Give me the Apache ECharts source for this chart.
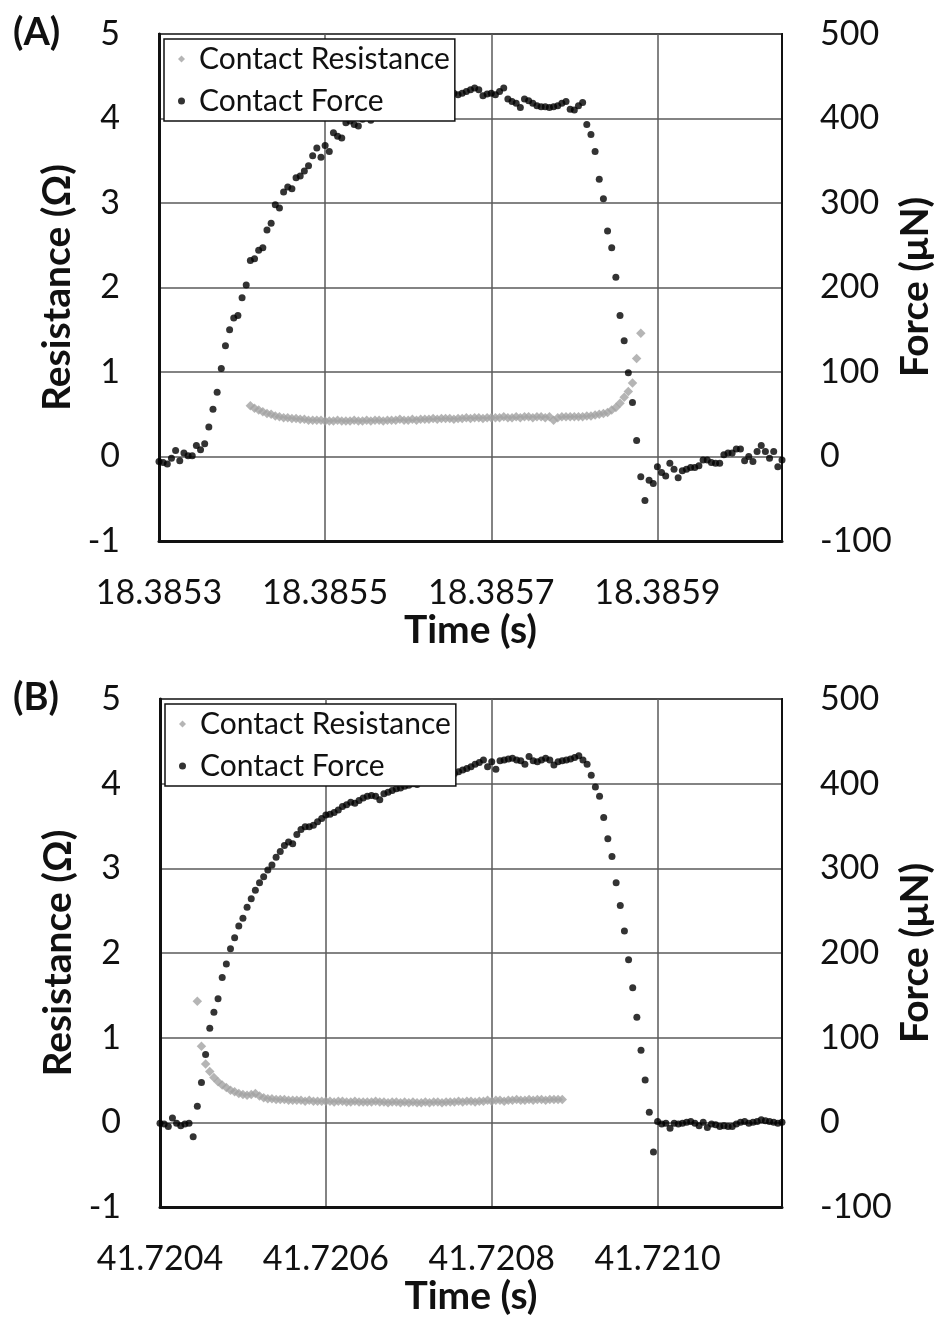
<!DOCTYPE html>
<html>
<head>
<meta charset="utf-8">
<script src="https://cdn.jsdelivr.net/npm/echarts@6/dist/echarts.min.js"></script>
<style>
  html, body { margin: 0; padding: 0; background: #fff; }
  #chart { width: 937px; height: 1319px; }
</style>
</head>
<body>
<div id="chart"></div>
<script>
// Sample times are microseconds after the start of each window.
const startTimeA = 18.3853;   // s
const startTimeB = 41.7204;   // s
const windowLength = 750;     // µs shown per panel
const timeTickStep = 200;     // µs between time labels

const resistanceTicks = { min: -1, max: 5, step: 1 };
const forceTicks = { min: -100, max: 500, step: 100 };

// (A) contact force, µN
const forceA = [
  [0,-6],[5,-7],[10,-9],[15,-2],[20,7],[25,-5],[30,4],[35,1],[40,1],[45,13],
  [50,8],[55,15],[60,35],[65,56],[70,76],[75,104],[80,131],[85,150],[90,164],[95,167],
  [100,188],[105,203],[110,232],[115,234],[120,244],[125,247],[130,268],[135,276],[140,298],[145,294],
  [150,313],[155,319],[160,317],[165,330],[170,332],[175,338],[180,344],[185,356],[190,365],[195,354],
  [200,368],[205,361],[210,383],[215,379],[220,377],[225,395],[230,397],[235,393],[240,391],[245,399],
  [250,402],[255,398],[260,405],[265,408],[270,404],[275,410],[280,412],[285,409],[290,414],[295,416],
  [300,413],[305,418],[310,420],[315,417],[320,422],[325,424],[330,421],[335,425],[340,427],[345,424],
  [350,428],[355,430],[360,428],[365,430],[370,432],[375,434],[380,436],[385,434],[390,427],[395,429],
  [400,430],[405,428],[410,432],[415,436],[420,423],[425,420],[430,418],[435,413],[440,423],[445,421],
  [450,418],[455,415],[460,414],[465,414],[470,413],[475,414],[480,415],[485,418],[490,420],[495,411],
  [500,410],[505,415],[510,419],[515,393],[520,381],[525,361],[530,328],[535,305],[540,267],[545,247],
  [550,212],[555,167],[560,137],[565,99],[570,64],[575,19],[580,-24],[585,-52],[590,-28],[595,-32],
  [600,-12],[605,-19],[610,-23],[615,-8],[620,-15],[625,-25],[630,-17],[635,-15],[640,-13],[645,-13],
  [650,-11],[655,-4],[660,-4],[665,-7],[670,-8],[675,-8],[680,2],[685,4],[690,4],[695,9],
  [700,9],[705,-5],[710,0],[715,-6],[720,6],[725,13],[730,6],[735,-2],[740,6],[745,-12],
  [750,-4]
];

// (A) contact resistance, Ω
const resistanceA = [
  [110,0.60],[115,0.57],[120,0.55],[125,0.53],[130,0.51],[135,0.50],[140,0.48],[145,0.47],[150,0.46],[155,0.46],
  [160,0.45],[165,0.45],[170,0.44],[175,0.44],[180,0.43],[185,0.43],[190,0.43],[195,0.43],[200,0.42],
  [205,0.42],[210,0.42],[215,0.43],[220,0.42],[225,0.42],[230,0.42],[235,0.43],[240,0.42],[245,0.42],[250,0.43],
  [255,0.42],[260,0.43],[265,0.43],[270,0.42],[275,0.43],[280,0.43],[285,0.43],[290,0.44],[295,0.43],[300,0.43],
  [305,0.44],[310,0.43],[315,0.44],[320,0.44],[325,0.44],[330,0.45],[335,0.44],[340,0.45],[345,0.45],[350,0.45],
  [355,0.44],[360,0.45],[365,0.45],[370,0.46],[375,0.45],[380,0.46],[385,0.46],[390,0.45],[395,0.46],[400,0.46],
  [405,0.46],[410,0.46],[415,0.47],[420,0.46],[425,0.46],[430,0.47],[435,0.46],[440,0.47],[445,0.47],[450,0.46],
  [455,0.47],[460,0.47],[465,0.46],[470,0.47],[475,0.43],[480,0.46],[485,0.47],[490,0.47],[495,0.47],[500,0.47],
  [505,0.47],[510,0.47],[515,0.48],[520,0.48],[525,0.49],[530,0.50],[535,0.51],[540,0.52],[545,0.55],[550,0.58],
  [555,0.63],[560,0.70],[565,0.77],[570,0.87],[575,1.16],[580,1.46]
];

// (B) contact force, µN
const forceB = [
  [0,-1],[5,-2],[10,-5],[15,5],[20,-1],[25,-4],[30,-2],[35,-1],[40,-17],[45,19],
  [50,47],[55,80],[60,111],[65,130],[70,146],[75,171],[80,187],[85,205],[90,218],[95,232],
  [100,241],[105,254],[110,264],[115,274],[120,283],[125,290],[130,298],[135,304],[140,313],[145,320],
  [150,327],[155,331],[160,329],[165,340],[170,346],[175,349],[180,349],[185,351],[190,355],[195,359],
  [200,363],[205,364],[210,366],[215,369],[220,373],[225,375],[230,378],[235,377],[240,380],[245,383],
  [250,385],[255,386],[260,385],[265,381],[270,388],[275,390],[280,392],[285,394],[290,395],[295,397],
  [300,398],[305,400],[310,399],[315,402],[320,404],[325,403],[330,406],[335,407],[340,409],[345,408],
  [350,411],[355,412],[360,414],[365,416],[370,418],[375,420],[380,423],[385,425],[390,428],[395,420],
  [400,426],[405,417],[410,427],[415,428],[420,429],[425,430],[430,428],[435,427],[440,423],[445,432],
  [450,427],[455,426],[460,428],[465,430],[470,428],[475,422],[480,426],[485,427],[490,428],[495,429],
  [500,431],[505,433],[510,428],[515,423],[520,410],[525,396],[530,385],[535,360],[540,335],[545,314],
  [550,283],[555,256],[560,226],[565,192],[570,159],[575,124],[580,85],[585,50],[590,12],[595,-35],
  [600,1],[605,-2],[610,-1],[615,-7],[620,-1],[625,-2],[630,-1],[635,0],[640,1],[645,-1],
  [650,-4],[655,0],[660,-6],[665,-2],[670,-3],[675,-5],[680,-4],[685,-5],[690,-5],[695,-2],
  [700,0],[705,1],[710,-1],[715,0],[720,1],[725,3],[730,2],[735,1],[740,0],[745,-1],
  [750,0]
];

// (B) contact resistance, Ω
const resistanceB = [
  [45,1.43],[50,0.90],[55,0.69],[60,0.60],[65,0.53],[70,0.48],[75,0.44],[80,0.41],[85,0.38],[90,0.36],
  [95,0.34],[100,0.33],[105,0.32],[110,0.33],[115,0.34],[120,0.31],[125,0.29],[130,0.28],[135,0.28],[140,0.27],
  [145,0.27],[150,0.27],[155,0.26],[160,0.26],[165,0.26],[170,0.26],[175,0.25],[180,0.26],[185,0.25],[190,0.25],
  [195,0.25],[200,0.25],[205,0.25],[210,0.24],[215,0.25],[220,0.25],[225,0.24],[230,0.24],[235,0.25],[240,0.24],
  [245,0.24],[250,0.24],[255,0.24],[260,0.25],[265,0.24],[270,0.24],[275,0.23],[280,0.24],[285,0.24],[290,0.23],
  [295,0.24],[300,0.23],[305,0.24],[310,0.23],[315,0.23],[320,0.24],[325,0.23],[330,0.24],[335,0.24],[340,0.23],
  [345,0.24],[350,0.24],[355,0.24],[360,0.25],[365,0.24],[370,0.25],[375,0.25],[380,0.24],[385,0.25],[390,0.25],
  [395,0.26],[400,0.25],[405,0.26],[410,0.26],[415,0.25],[420,0.26],[425,0.26],[430,0.27],[435,0.26],[440,0.26],
  [445,0.27],[450,0.26],[455,0.27],[460,0.27],[465,0.26],[470,0.27],[475,0.27],[480,0.27],[485,0.27]
];

const FONT = 'Lato, "Open Sans", sans-serif';
const INK = '#111';
const GRID_LINE = '#5a5a5a';

function timeAxis(gridIndex, start) {
  return {
    type: 'value', gridIndex,
    min: 0, max: windowLength, interval: timeTickStep,
    axisLine: { show: true, onZero: false, lineStyle: { color: INK, width: 3 } },
    axisTick: { show: false },
    splitLine: { show: true, lineStyle: { color: GRID_LINE, width: 1.5 } },
    axisLabel: {
      showMaxLabel: false, margin: 35,
      fontSize: 34, fontFamily: FONT, color: INK,
      formatter: v => (start + v / 1e6).toFixed(4)
    },
    name: 'Time (s)', nameLocation: 'middle', nameGap: 70,
    nameTextStyle: { fontSize: 39, fontWeight: 'bold', fontFamily: FONT, color: INK }
  };
}

function resistanceAxis(gridIndex) {
  return {
    type: 'value', gridIndex, position: 'left',
    min: resistanceTicks.min, max: resistanceTicks.max, interval: resistanceTicks.step,
    axisLine: { show: true, onZero: false, lineStyle: { color: INK, width: 3 } },
    axisTick: { show: false },
    splitLine: { show: true, lineStyle: { color: GRID_LINE, width: 1.5 } },
    axisLabel: { margin: 39, fontSize: 34, fontFamily: FONT, color: INK },
    name: 'Resistance (Ω)', nameLocation: 'middle', nameRotate: 90, nameGap: 76,
    nameTextStyle: { fontSize: 39, fontWeight: 'bold', fontFamily: FONT, color: INK }
  };
}

function forceAxis(gridIndex) {
  return {
    type: 'value', gridIndex, position: 'right',
    min: forceTicks.min, max: forceTicks.max, interval: forceTicks.step,
    axisLine: { show: true, onZero: false, lineStyle: { color: INK, width: 2 } },
    axisTick: { show: false },
    splitLine: { show: false },
    axisLabel: { margin: 38, fontSize: 34, fontFamily: FONT, color: INK }
  };
}

// Right-hand axis title, reading upwards beside the force labels
function forceTitle(centerY) {
  return {
    type: 'text', x: 915, y: centerY, rotation: Math.PI / 2,
    style: {
      text: 'Force (μN)', fill: INK,
      font: 'bold 39px ' + FONT,
      align: 'center', verticalAlign: 'middle'
    }
  };
}

function legendBox(left, top) {
  return {
    left, top, orient: 'vertical',
    padding: [5, 5, 5, 14],
    itemWidth: 7, itemHeight: 7, itemGap: 12,
    selectedMode: false,
    backgroundColor: '#fff', borderColor: INK, borderWidth: 1.5,
    textStyle: { fontSize: 30, lineHeight: 30, fontFamily: FONT, color: INK, padding: [0, 0, 0, 9] },
    data: [
      { name: 'Contact Resistance', icon: 'diamond' },
      { name: 'Contact Force', icon: 'circle' }
    ]
  };
}

function resistanceSeries(axisBase, data) {
  return {
    type: 'scatter', name: 'Contact Resistance',
    xAxisIndex: axisBase / 2, yAxisIndex: axisBase,
    data, symbol: 'diamond', symbolSize: 9.5,
    itemStyle: { color: '#a2a2a2' }, z: 2
  };
}

function forceSeries(axisBase, data) {
  return {
    type: 'scatter', name: 'Contact Force',
    xAxisIndex: axisBase / 2, yAxisIndex: axisBase + 1,
    data, symbol: 'circle', symbolSize: 7,
    itemStyle: { color: '#000' }, z: 3
  };
}

const chart = echarts.init(document.getElementById('chart'), null, { renderer: 'canvas' });
chart.setOption({
  animation: false,
  backgroundColor: '#fff',
  title: [
    { text: '(A)', left: 13, top: 14, padding: 0,
      textStyle: { fontSize: 38, fontWeight: 'bold', fontFamily: FONT, color: INK } },
    { text: '(B)', left: 13, top: 679, padding: 0,
      textStyle: { fontSize: 38, fontWeight: 'bold', fontFamily: FONT, color: INK } }
  ],
  graphic: [forceTitle(287), forceTitle(953)],
  grid: [
    { left: 159, top: 34, width: 623, height: 507, show: true, borderColor: '#222', borderWidth: 2,
      containLabel: false, outerBoundsMode: 'none' },
    { left: 160, top: 699, width: 622, height: 508, show: true, borderColor: '#222', borderWidth: 2,
      containLabel: false, outerBoundsMode: 'none' }
  ],
  legend: [legendBox(164, 39), legendBox(165, 704)],
  xAxis: [timeAxis(0, startTimeA), timeAxis(1, startTimeB)],
  yAxis: [resistanceAxis(0), forceAxis(0), resistanceAxis(1), forceAxis(1)],
  series: [
    resistanceSeries(0, resistanceA),
    forceSeries(0, forceA),
    resistanceSeries(2, resistanceB),
    forceSeries(2, forceB)
  ]
});
</script>
</body>
</html>
